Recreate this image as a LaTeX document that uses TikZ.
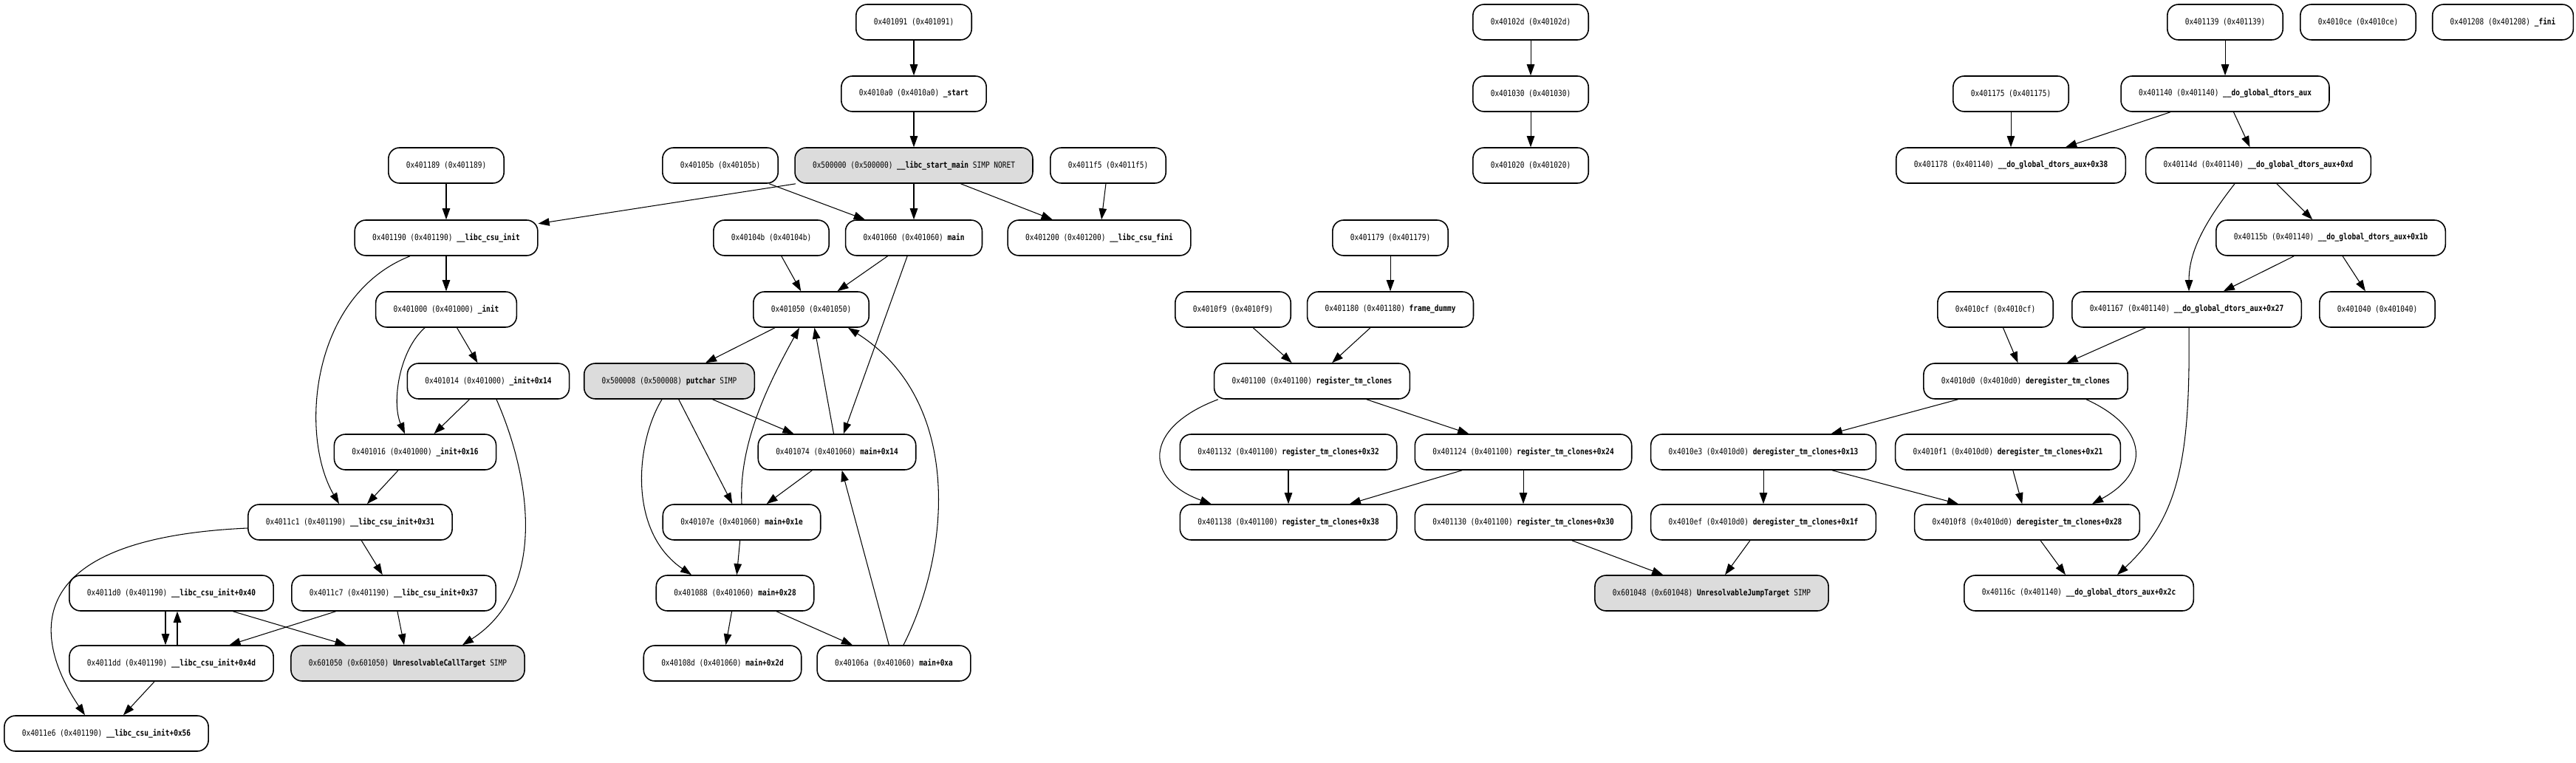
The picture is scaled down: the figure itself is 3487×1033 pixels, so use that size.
\documentclass[tikz,border=0pt]{standalone}
\usepackage{fontspec}
\setmonofont[FakeStretch=0.83]{DejaVu Sans Mono}
\usetikzlibrary{arrows.meta,calc}
\definecolor{simpgray}{HTML}{DCDCDC}
\newcommand{\fnlabel}[3]{#1 (#2) \textbf{#3}}
\tikzset{
  blk/.style={draw, line width=0.9pt, rounded corners=0.3cm,
              minimum height=0.96cm, inner xsep=0.48cm, inner ysep=0pt,
              font=\ttfamily\fontsize{6.5}{7}\selectfont},
  simp/.style={blk, fill=simpgray},
  cfgedge/.style={-{Triangle[length=3mm,width=2.1mm]}, line width=0.6pt}
}

\begin{document}
\begin{tikzpicture}[x=0.02cm,y=-0.02cm]
	\useasboundingbox[fill=white] (0,0) rectangle (3487,1033);
	% main
	\node[blk]  (n401091) at (1237,30)  {0x401091 (0x401091)};
	\node[blk]  (n4010a0) at (1237,127) {\fnlabel{0x4010a0}{0x4010a0}{\_start}};
	\node[blk]  (n40105b) at (975,224)  {0x40105b (0x40105b)};
	\node[simp] (n500000) at (1237,224) {\fnlabel{0x500000}{0x500000}{\_\_libc\_start\_main} SIMP NORET};
	\node[blk]  (n4011f5) at (1500,224) {0x4011f5 (0x4011f5)};
	\node[blk]  (n40104b) at (1044,322) {0x40104b (0x40104b)};
	\node[blk]  (n401060) at (1237,322) {\fnlabel{0x401060}{0x401060}{main}};
	\node[blk]  (n401200) at (1488,322) {\fnlabel{0x401200}{0x401200}{\_\_libc\_csu\_fini}};
	\node[blk]  (n401050) at (1098,419) {0x401050 (0x401050)};
	\node[simp] (n500008) at (906,516)  {\fnlabel{0x500008}{0x500008}{putchar} SIMP};
	\node[blk]  (n401074) at (1133,612) {\fnlabel{0x401074}{0x401060}{main+0x14}};
	\node[blk]  (n40107e) at (1004,707) {\fnlabel{0x40107e}{0x401060}{main+0x1e}};
	\node[blk]  (n401088) at (995,803)  {\fnlabel{0x401088}{0x401060}{main+0x28}};
	\node[blk]  (n40108d) at (978,898)  {\fnlabel{0x40108d}{0x401060}{main+0x2d}};
	\node[blk]  (n40106a) at (1210,898) {\fnlabel{0x40106a}{0x401060}{main+0xa}};
	% __libc_csu_init
	\node[blk]  (n401189) at (604,224)  {0x401189 (0x401189)};
	\node[blk]  (n401190) at (604,322)  {\fnlabel{0x401190}{0x401190}{\_\_libc\_csu\_init}};
	\node[blk]  (n401000) at (604,419)  {\fnlabel{0x401000}{0x401000}{\_init}};
	\node[blk]  (n401014) at (661,516)  {\fnlabel{0x401014}{0x401000}{\_init+0x14}};
	\node[blk]  (n401016) at (562,612)  {\fnlabel{0x401016}{0x401000}{\_init+0x16}};
	\node[blk]  (n4011c1) at (474,707)  {\fnlabel{0x4011c1}{0x401190}{\_\_libc\_csu\_init+0x31}};
	\node[blk]  (n4011d0) at (232,803)  {\fnlabel{0x4011d0}{0x401190}{\_\_libc\_csu\_init+0x40}};
	\node[blk]  (n4011c7) at (533,803)  {\fnlabel{0x4011c7}{0x401190}{\_\_libc\_csu\_init+0x37}};
	\node[blk]  (n4011dd) at (232,898)  {\fnlabel{0x4011dd}{0x401190}{\_\_libc\_csu\_init+0x4d}};
	\node[simp] (n601050) at (552,898)  {\fnlabel{0x601050}{0x601050}{UnresolvableCallTarget} SIMP};
	\node[blk]  (n4011e6) at (144,993)  {\fnlabel{0x4011e6}{0x401190}{\_\_libc\_csu\_init+0x56}};
	% register_tm_clones
	\node[blk]  (n40102d) at (2072,30)  {0x40102d (0x40102d)};
	\node[blk]  (n401030) at (2072,127) {0x401030 (0x401030)};
	\node[blk]  (n401020) at (2072,224) {0x401020 (0x401020)};
	\node[blk]  (n401179) at (1882,322) {0x401179 (0x401179)};
	\node[blk]  (n4010f9) at (1669,419) {0x4010f9 (0x4010f9)};
	\node[blk]  (n401180) at (1882,419) {\fnlabel{0x401180}{0x401180}{frame\_dummy}};
	\node[blk]  (n401100) at (1776,516) {\fnlabel{0x401100}{0x401100}{register\_tm\_clones}};
	\node[blk]  (n401132) at (1744,612) {\fnlabel{0x401132}{0x401100}{register\_tm\_clones+0x32}};
	\node[blk]  (n401124) at (2062,612) {\fnlabel{0x401124}{0x401100}{register\_tm\_clones+0x24}};
	\node[blk]  (n401138) at (1744,707) {\fnlabel{0x401138}{0x401100}{register\_tm\_clones+0x38}};
	\node[blk]  (n401130) at (2062,707) {\fnlabel{0x401130}{0x401100}{register\_tm\_clones+0x30}};
	\node[simp] (n601048) at (2317,803) {\fnlabel{0x601048}{0x601048}{UnresolvableJumpTarget} SIMP};
	% __do_global_dtors_aux
	\node[blk]  (n401139) at (3012,30)  {0x401139 (0x401139)};
	\node[blk]  (n4010ce) at (3192,30)  {0x4010ce (0x4010ce)};
	\node[blk]  (n401208) at (3388,30)  {\fnlabel{0x401208}{0x401208}{\_fini}};
	\node[blk]  (n401175) at (2722,127) {0x401175 (0x401175)};
	\node[blk]  (n401140) at (3012,127) {\fnlabel{0x401140}{0x401140}{\_\_do\_global\_dtors\_aux}};
	\node[blk]  (n401178) at (2722,224) {\fnlabel{0x401178}{0x401140}{\_\_do\_global\_dtors\_aux+0x38}};
	\node[blk]  (n40114d) at (3057,224) {\fnlabel{0x40114d}{0x401140}{\_\_do\_global\_dtors\_aux+0xd}};
	\node[blk]  (n40115b) at (3155,322) {\fnlabel{0x40115b}{0x401140}{\_\_do\_global\_dtors\_aux+0x1b}};
	\node[blk]  (n4010cf) at (2701,419) {0x4010cf (0x4010cf)};
	\node[blk]  (n401167) at (2960,419) {\fnlabel{0x401167}{0x401140}{\_\_do\_global\_dtors\_aux+0x27}};
	\node[blk]  (n401040) at (3218,419) {0x401040 (0x401040)};
	\node[blk]  (n4010d0) at (2742,516) {\fnlabel{0x4010d0}{0x4010d0}{deregister\_tm\_clones}};
	\node[blk]  (n4010e3) at (2387,612) {\fnlabel{0x4010e3}{0x4010d0}{deregister\_tm\_clones+0x13}};
	\node[blk]  (n4010f1) at (2718,612) {\fnlabel{0x4010f1}{0x4010d0}{deregister\_tm\_clones+0x21}};
	\node[blk]  (n4010ef) at (2387,707) {\fnlabel{0x4010ef}{0x4010d0}{deregister\_tm\_clones+0x1f}};
	\node[blk]  (n4010f8) at (2744,707) {\fnlabel{0x4010f8}{0x4010d0}{deregister\_tm\_clones+0x28}};
	\node[blk]  (n40116c) at (2814,803) {\fnlabel{0x40116c}{0x401140}{\_\_do\_global\_dtors\_aux+0x2c}};

	\draw[cfgedge] (n401091) -- (n4010a0);
	\draw[cfgedge] (n4010a0) -- (n500000);
	\draw[cfgedge] (n500000) -- (n401190);
	\draw[cfgedge] (n500000) -- (n401060);
	\draw[cfgedge] (n500000) -- (n401200);
	\draw[cfgedge] (n40105b) -- (n401060);
	\draw[cfgedge] (n4011f5) -- (n401200);
	\draw[cfgedge] (n40104b) -- (n401050);
	\draw[cfgedge] (n401060) -- (n401050);
	\draw[cfgedge] (n401060) -- (n401074);
	\draw[cfgedge] (n401050) -- (n500008);
	\draw[cfgedge] (n500008) -- (n401074);
	\draw[cfgedge] (n500008) -- (n40107e);
	\draw[cfgedge] ($(n500008.south)+(-10,0)$) .. controls (860,600) and (850,720) .. ($(n401088.north)+(-59,0)$);
	\draw[cfgedge] (n401074) -- (n40107e);
	\draw[cfgedge] (n401074) -- (n401050);
	\draw[cfgedge] (n40107e.north) .. controls (1000,600) and (1040,520) .. ($(n401050.south)+(-16,0)$);
	\draw[cfgedge] (n40107e) -- (n401088);
	\draw[cfgedge] (n401088) -- (n40108d);
	\draw[cfgedge] (n401088) -- (n40106a);
	\draw[cfgedge] (n40106a) -- (n401074);
	\draw[cfgedge] ($(n40106a.north)+(13,0)$) .. controls (1290,740) and (1300,540) .. ($(n401050.south)+(50,0)$);

	\draw[cfgedge] (n401189) -- (n401190);
	\draw[cfgedge] (n401190) -- (n401000);
	\draw[cfgedge] ($(n401190.south)+(-49,0)$) .. controls (420,400) and (405,590) .. ($(n4011c1.north)+(-15,0)$);
	\draw[cfgedge] (n401000) -- (n401014);
	\draw[cfgedge] ($(n401000.south)+(-29,0)$) .. controls (540,475) and (530,545) .. ($(n401016.north)+(-14,0)$);
	\draw[cfgedge] (n401014) -- (n401016);
	\draw[cfgedge] ($(n401014.south)+(11,0)$) .. controls (720,650) and (740,800) .. ($(n601050.north)+(74,0)$);
	\draw[cfgedge] (n401016) -- (n4011c1);
	\draw[cfgedge] (n4011c1) -- (n4011c7);
	\draw[cfgedge] ($(n4011c1.west)+(0,8)$) .. controls (5,730) and (55,880) .. ($(n4011e6.north)+(-29,0)$);
	\draw[cfgedge] ($(n4011d0.south)+(-8,0)$) -- ($(n4011dd.north)+(-8,0)$);
	\draw[cfgedge] ($(n4011dd.north)+(8,0)$) -- ($(n4011d0.south)+(8,0)$);
	\draw[cfgedge] (n4011d0) -- (n601050);
	\draw[cfgedge] (n4011c7) -- (n4011dd);
	\draw[cfgedge] (n4011c7) -- (n601050);
	\draw[cfgedge] (n4011dd) -- (n4011e6);

	\draw[cfgedge] (n40102d) -- (n401030);
	\draw[cfgedge] (n401030) -- (n401020);
	\draw[cfgedge] (n401179) -- (n401180);
	\draw[cfgedge] (n4010f9) -- (n401100);
	\draw[cfgedge] (n401180) -- (n401100);
	\draw[cfgedge] ($(n401100.south west)+(6,0)$) .. controls (1545,580) and (1550,650) .. ($(n401138.north west)+(43,0)$);
	\draw[cfgedge] (n401100) -- (n401124);
	\draw[cfgedge] (n401132) -- (n401138);
	\draw[cfgedge] (n401124) -- (n401138);
	\draw[cfgedge] (n401124) -- (n401130);
	\draw[cfgedge] (n401130) -- (n601048);
	\draw[cfgedge] (n4010ef) -- (n601048);

	\draw[cfgedge] (n401139) -- (n401140);
	\draw[cfgedge] (n401175) -- (n401178);
	\draw[cfgedge] (n401140) -- (n401178);
	\draw[cfgedge] (n401140) -- (n40114d);
	\draw[cfgedge] (n40114d) -- (n40115b);
	\draw[cfgedge] ($(n40114d.south)+(-32,0)$) .. controls (2985,300) and (2963,340) .. ($(n401167.north)+(3,0)$);
	\draw[cfgedge] (n40115b) -- (n401167);
	\draw[cfgedge] (n40115b) -- (n401040);
	\draw[cfgedge] (n4010cf) -- (n4010d0);
	\draw[cfgedge] (n401167) -- (n4010d0);
	\draw[cfgedge] ($(n401167.south)+(3,0)$) .. controls (2965,620) and (2950,700) .. ($(n40116c.north)+(52,0)$);
	\draw[cfgedge] (n4010d0) -- (n4010e3);
	\draw[cfgedge] ($(n4010d0.south)+(82,0)$) .. controls (2910,580) and (2910,640) .. ($(n4010f8.north)+(88,0)$);
	\draw[cfgedge] (n4010e3) -- (n4010ef);
	\draw[cfgedge] (n4010e3) -- (n4010f8);
	\draw[cfgedge] (n4010f1) -- (n4010f8);
	\draw[cfgedge] (n4010f8) -- (n40116c);
\end{tikzpicture}
\end{document}
